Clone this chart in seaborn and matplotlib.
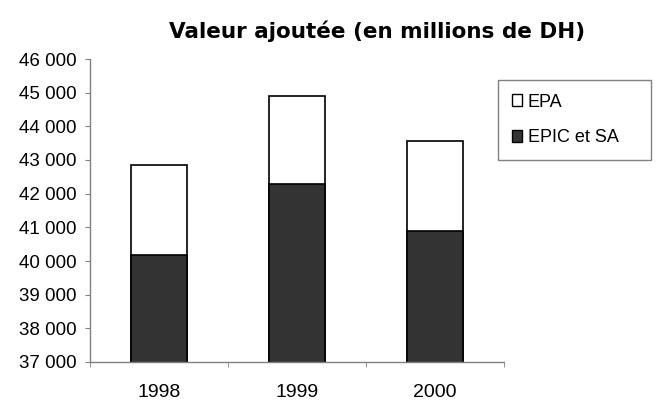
import pandas as pd
import matplotlib
matplotlib.use("Agg")
import matplotlib.pyplot as plt
import seaborn as sns
from matplotlib.patches import Patch
from matplotlib.ticker import FuncFormatter, FixedLocator

# données
annees = ['1998', '1999', '2000']
epic_sa = [40180, 42290, 40890]
epa = [2670, 2600, 2680]

df = pd.DataFrame({'annee': annees, 'EPIC et SA': epic_sa, 'EPA': epa})
df['total'] = df['EPIC et SA'] + df['EPA']

sns.set_style('white', rc={'text.color': 'black', 'xtick.color': 'black',
                           'ytick.color': 'black'})
plt.rcParams['font.family'] = ['Liberation Sans', 'DejaVu Sans']

fig = plt.figure(figsize=(6.57, 4.0), dpi=100)
ax = fig.add_axes([90 / 657, 1 - 362 / 400, 414 / 657, 303 / 400])

sns.barplot(data=df, x='annee', y='total', color='white', edgecolor='black',
            linewidth=1.2, width=0.4, ax=ax, saturation=1)
sns.barplot(data=df, x='annee', y='EPIC et SA', color='#333333', edgecolor='black',
            linewidth=1.2, width=0.4, ax=ax, saturation=1)

ax.set_ylim(37000, 46000)
ax.set_xlim(-0.5, 2.5)
ax.set_yticks(range(37000, 46001, 1000))
ax.yaxis.set_major_formatter(FuncFormatter(lambda v, p: f"{int(v):,}".replace(',', ' ')))
ax.set_xlabel('')
ax.set_ylabel('')

for s in ['top', 'right']:
    ax.spines[s].set_visible(False)
for s in ['left', 'bottom']:
    ax.spines[s].set_color('#808080')
    ax.spines[s].set_linewidth(1)

ax.tick_params(axis='y', which='major', left=True, length=3.6, color='#808080',
               labelcolor='black', labelsize=13.5, pad=6)
ax.tick_params(axis='x', which='major', bottom=False, labelcolor='black',
               labelsize=14, pad=12)
ax.xaxis.set_minor_locator(FixedLocator([-0.5, 0.5, 1.5, 2.5]))
ax.tick_params(axis='x', which='minor', bottom=True, length=3.6, color='#808080')

fig.text(377 / 657, 1 - 31 / 400, 'Valeur ajoutée (en millions de DH)',
         ha='center', va='center', fontsize=15.5, fontweight='bold',
         color='black', family=['DejaVu Sans'])

handles = [Patch(facecolor='white', edgecolor='black', label='EPA'),
           Patch(facecolor='#333333', edgecolor='black', label='EPIC et SA')]
leg = fig.legend(handles=handles, loc='upper left',
                 bbox_to_anchor=(498 / 657, 1 - 80 / 400, 153 / 657, 0),
                 mode='expand', fancybox=False, framealpha=1,
                 edgecolor='#808080', fontsize=13, handlelength=0.6,
                 handleheight=0.6, handletextpad=0.3, labelspacing=1.05,
                 borderpad=0.75, borderaxespad=0)
leg.get_frame().set_linewidth(1)

fig.savefig('out.png', dpi=100)
